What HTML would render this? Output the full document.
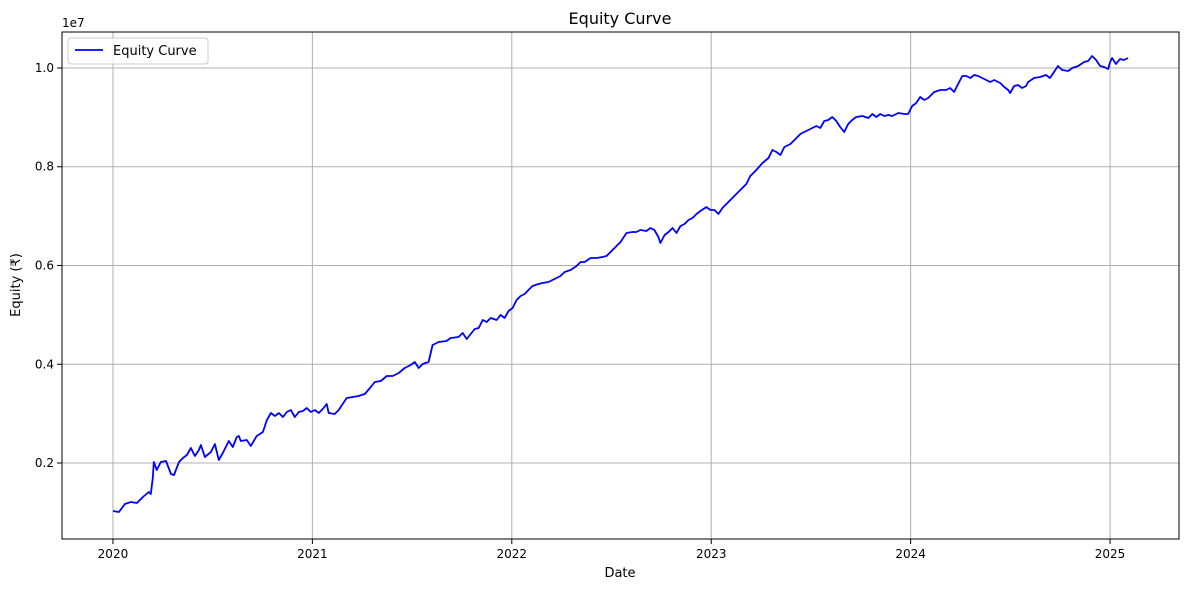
<!DOCTYPE html>
<html><head><meta charset="utf-8"><style>
html,body{margin:0;padding:0;background:#fff;}
svg{display:block;font-family:"DejaVu Sans","Liberation Sans",sans-serif;}
</style></head><body>
<svg id="chart" width="1189" height="590" viewBox="0 0 1189 590">
<rect x="0" y="0" width="1189" height="590" fill="#fff"/>
<text x="620" y="24" text-anchor="middle" font-size="16" fill="#000">Equity Curve</text>
<g id="grid"></g>
<g id="series"></g>
<rect x="62" y="32" width="1117" height="507" fill="none" stroke="#000" stroke-width="1"/>
<g id="axes"></g>
<text x="62" y="27" font-size="12" fill="#000">1e7</text>
<text x="620" y="577" text-anchor="middle" font-size="13" fill="#000">Date</text>
<text x="20" y="285" text-anchor="middle" font-size="13" fill="#000" transform="rotate(-90 20 285)">Equity (₹)</text>
<g>
<rect x="68" y="38" width="140" height="26" rx="3" fill="#fff" fill-opacity="0.8" stroke="#ccc"/>
<line x1="75" y1="50" x2="103" y2="50" stroke="#0000ff" stroke-width="1.8"/>
<text x="113" y="55" font-size="13" fill="#000">Equity Curve</text>
</g>
</svg>
<script>
const yearOffsets = [0,.030,.060,.090,.120,.150,.180,.190,.200,.205,.220,.240,.266,.291,.306,.331,.351,.371,.391,.411,.431,.441,.461,.491,.511,.531,.551,.581,.601,.621,.631,.641,.671,.691,.721,.752,.772,.792,.812,.832,.852,.872,.892,.912,.932,.952,.972,.992,1.012,1.032,1.052,1.072,1.082,1.112,1.132,1.152,1.172,1.202,1.232,1.263,1.293,1.313,1.343,1.373,1.403,1.433,1.463,1.493,1.513,1.533,1.553,1.583,1.603,1.633,1.673,1.693,1.733,1.754,1.774,1.794,1.814,1.834,1.854,1.874,1.894,1.924,1.944,1.964,1.984,2.004,2.024,2.044,2.064,2.084,2.104,2.134,2.154,2.184,2.214,2.244,2.265,2.295,2.325,2.345,2.365,2.395,2.425,2.455,2.475,2.495,2.515,2.545,2.575,2.605,2.625,2.645,2.675,2.695,2.715,2.735,2.745,2.766,2.786,2.806,2.826,2.846,2.866,2.886,2.906,2.926,2.946,2.976,2.996,3.016,3.036,3.056,3.086,3.116,3.146,3.176,3.196,3.226,3.257,3.287,3.307,3.327,3.347,3.367,3.397,3.427,3.447,3.477,3.507,3.527,3.547,3.567,3.587,3.607,3.627,3.647,3.667,3.687,3.707,3.727,3.758,3.788,3.808,3.828,3.848,3.868,3.888,3.908,3.938,3.968,3.988,4.008,4.028,4.048,4.068,4.088,4.118,4.148,4.178,4.198,4.218,4.238,4.259,4.279,4.299,4.319,4.339,4.369,4.399,4.419,4.449,4.469,4.489,4.499,4.519,4.539,4.559,4.579,4.589,4.619,4.649,4.679,4.699,4.719,4.739,4.760,4.790,4.810,4.840,4.870,4.890,4.910,4.930,4.950,4.970,4.990,5.000,5.010,5.030,5.050,5.070,5.090];
const equityE7 = [.1028,.1008,.1170,.1210,.1190,.1311,.1413,.1372,.1696,.2020,.1858,.2020,.2041,.1777,.1757,.2020,.2101,.2162,.2304,.2142,.2263,.2364,.2121,.2223,.2385,.2061,.2203,.2446,.2324,.2527,.2547,.2446,.2466,.2345,.2547,.2628,.2871,.3013,.2952,.3013,.2932,.3033,.3074,.2932,.3033,.3053,.3114,.3033,.3074,.3013,.3094,.3195,.3013,.2993,.3074,.3195,.3317,.3337,.3357,.3398,.3540,.3641,.3661,.3763,.3763,.3823,.3924,.3985,.4046,.3924,.4005,.4046,.4390,.4451,.4471,.4532,.4552,.4633,.4512,.4613,.4714,.4734,.4896,.4856,.4937,.4896,.4998,.4937,.5079,.5139,.5301,.5382,.5423,.5504,.5585,.5625,.5645,.5666,.5726,.5787,.5868,.5909,.5990,.6071,.6071,.6152,.6152,.6172,.6192,.6273,.6354,.6476,.6658,.6678,.6678,.6719,.6699,.6759,.6719,.6577,.6456,.6618,.6678,.6759,.6658,.6800,.6840,.6921,.6962,.7043,.7104,.7185,.7124,.7124,.7043,.7164,.7286,.7407,.7529,.7651,.7813,.7934,.8076,.8177,.8339,.8299,.8238,.8400,.8461,.8582,.8663,.8724,.8785,.8825,.8785,.8927,.8947,.9008,.8927,.8805,.8704,.8866,.8947,.9008,.9028,.8988,.9069,.9008,.9069,.9028,.9049,.9028,.9089,.9069,.9069,.9231,.9292,.9413,.9352,.9393,.9514,.9555,.9555,.9595,.9514,.9676,.9838,.9838,.9798,.9858,.9838,.9777,.9716,.9757,.9696,.9615,.9555,.9494,.9635,.9656,.9595,.9635,.9716,.9798,.9818,.9858,.9798,.9919,1.0041,.9960,.9939,1.0000,1.0041,1.0122,1.0142,1.0243,1.0162,1.0041,1.0020,.9980,1.0122,1.0203,1.0081,1.0182,1.0162,1.0203];
const xTickLabels = ["2020","2021","2022","2023","2024","2025"];
const xTickValues = [0,1,2,3,4,5];
const yTickLabels = ["0.2","0.4","0.6","0.8","1.0"];
const yTickValues = [0.2,0.4,0.6,0.8,1.0];

const L=62,R=1179,T=32,B=539;
const xMin=-0.2555,xMax=5.3457,yMin=0.0461,yMax=1.0729;
function sx(v){return L+(v-xMin)/(xMax-xMin)*(R-L);}
function sy(v){return B-(v-yMin)/(yMax-yMin)*(B-T);}
const NS="http://www.w3.org/2000/svg";
const grid=document.getElementById('grid'),axes=document.getElementById('axes'),series=document.getElementById('series');
function mk(tag,attrs,parent){const e=document.createElementNS(NS,tag);for(const k in attrs)e.setAttribute(k,attrs[k]);parent.appendChild(e);return e;}
xTickValues.forEach((v,i)=>{
  const x=sx(v);
  const g=mk('line',{x1:x,x2:x,y1:T,y2:B,stroke:'#b0b0b0','stroke-width':1},grid);
  
  
  const t=mk('line',{x1:x,x2:x,y1:B,y2:B+5,stroke:'#000'},axes);
  
  
  const l=mk('text',{x:x,y:B+19,'text-anchor':'middle','font-size':12,fill:'#000'},axes);
  l.textContent=xTickLabels[i];
  
  
});
yTickValues.forEach((v,i)=>{
  const y=sy(v);
  const g=mk('line',{x1:L,x2:R,y1:y,y2:y,stroke:'#b0b0b0','stroke-width':1},grid);
  
  
  const t=mk('line',{x1:L-5,x2:L,y1:y,y2:y,stroke:'#000'},axes);
  
  
  const l=mk('text',{x:L-8,y:y+4,'text-anchor':'end','font-size':12,fill:'#000'},axes);
  l.textContent=yTickLabels[i];
  
  
});
const pts=yearOffsets.map((t,i)=>sx(t).toFixed(1)+','+sy(equityE7[i]).toFixed(1)).join(' ');
const line=mk('polyline',{points:pts,fill:'none',stroke:'#0000ff','stroke-width':1.8,'stroke-linejoin':'round'},series);


</script>
</body></html>
